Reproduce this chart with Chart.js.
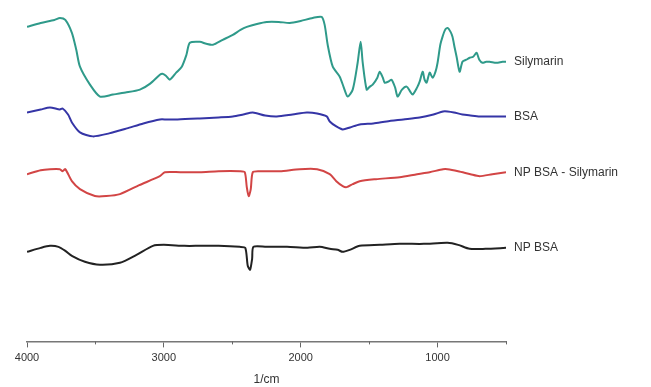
<!doctype html>
<html>

<head>
    <title>FTIR</title>
    <script src="https://cdn.jsdelivr.net/npm/chart.js"></script>
    <style>
        html, body { margin: 0; padding: 0; background: #fff; }
        .wrap { width: 651px; height: 387px; }
    </style>
</head>

<body>
    <div class="wrap">
        <canvas id="ftir"></canvas>
    </div>

    <script>
        // wavenumbers (1/cm) and transmittance in arbitrary offset units
        var silymarinX = [4000, 3900, 3800, 3759, 3720, 3672, 3640, 3613, 3540, 3467, 3372, 3280, 3175, 3100, 3029, 3010, 2985, 2956, 2910, 2869, 2835, 2810, 2737, 2690, 2642, 2570, 2496, 2440, 2394, 2320, 2248, 2160, 2080, 2000, 1912, 1847, 1825, 1803, 1766, 1715, 1685, 1657, 1620, 1584, 1562, 1547, 1518, 1495, 1474, 1440, 1423, 1400, 1387, 1360, 1336, 1310, 1292, 1260, 1226, 1200, 1182, 1150, 1131, 1109, 1095, 1080, 1058, 1036, 1015, 1000, 980, 964, 945, 927, 905, 891, 875, 861, 839, 818, 790, 766, 740, 715, 695, 672, 645, 620, 570, 525, 500];
        var silymarinY = [323, 327, 330, 332, 330, 317, 300, 283, 265, 253, 255, 257, 260, 266, 275, 276, 274, 270, 277, 283, 295, 307, 308, 306, 305, 310, 315, 320, 323, 326, 328, 328, 327, 329, 332, 333, 325, 305, 283, 273, 262, 253, 260, 287, 308, 287, 260, 263, 265, 272, 278, 272, 267, 268, 270, 262, 253, 260, 263, 258, 255, 262, 268, 278, 270, 267, 277, 272, 278, 287, 305, 313, 320, 322, 318, 313, 302, 293, 278, 288, 290, 292, 293, 297, 290, 287, 288, 288, 287, 288, 288];

        var bsaX = [4000, 3900, 3832, 3760, 3740, 3700, 3672, 3613, 3518, 3400, 3270, 3150, 3029, 2980, 2900, 2737, 2600, 2496, 2420, 2350, 2260, 2175, 2060, 1956, 1880, 1810, 1788, 1740, 1693, 1640, 1569, 1470, 1372, 1250, 1131, 1030, 960, 927, 880, 818, 760, 693, 600, 500];
        var bsaY = [237, 240, 242, 240, 241, 235, 227, 217, 213, 216, 221, 226, 230, 230, 230, 231, 232, 233, 235, 237, 234, 233, 235, 237, 236, 233, 228, 223, 220, 222, 225, 226, 228, 230, 232, 235, 238, 238, 237, 235, 234, 233, 233, 233];

        var npBsaSilX = [4000, 3900, 3832, 3760, 3740, 3720, 3672, 3613, 3504, 3420, 3321, 3180, 3029, 2993, 2880, 2737, 2600, 2445, 2409, 2394, 2380, 2365, 2350, 2300, 2153, 2007, 1880, 1788, 1740, 1693, 1664, 1620, 1569, 1450, 1277, 1150, 1058, 960, 927, 850, 760, 693, 600, 500];
        var npBsaSilY = [175, 179, 180, 180, 178, 180, 168, 160, 153, 153, 155, 164, 173, 177, 177, 177, 178, 178, 177, 162, 153, 160, 177, 178, 178, 180, 180, 175, 168, 163, 162, 165, 168, 170, 172, 175, 177, 180, 180, 178, 175, 173, 175, 177];

        var npBsaX = [4000, 3900, 3832, 3770, 3720, 3672, 3577, 3467, 3321, 3200, 3080, 3000, 2850, 2737, 2600, 2445, 2405, 2387, 2370, 2355, 2345, 2250, 2100, 1950, 1861, 1788, 1730, 1693, 1642, 1569, 1420, 1277, 1100, 927, 850, 766, 650, 500];
        var npBsaY = [97, 101, 103, 102, 98, 93, 87, 84, 86, 94, 103, 104, 103, 103, 103, 102, 101, 83, 79, 90, 102, 102, 102, 101, 102, 100, 99, 97, 99, 103, 104, 105, 105, 106, 104, 100, 100, 101];

        var seriesNames = ['Silymarin', 'BSA', 'NP BSA - Silymarin', 'NP BSA'];
        var seriesColors = ['#2f9a8a', '#3535a6', '#d24545', '#222222'];
        var majorTicks = [4000, 3000, 2000, 1000];
        var minorTicks = [3500, 2500, 1500, 500];

        function toPoints(xs, ys) {
            return xs.map(function (x, i) { return { x: x, y: ys[i] }; });
        }

        var allX = [silymarinX, bsaX, npBsaSilX, npBsaX];
        var allY = [silymarinY, bsaY, npBsaSilY, npBsaY];

        var endLabels = {
            id: 'endLabels',
            afterDatasetsDraw: function (chart) {
                var ctx = chart.ctx;
                ctx.save();
                ctx.font = '12px "Liberation Sans", Arial, sans-serif';
                ctx.fillStyle = '#333';
                ctx.textBaseline = 'middle';
                chart.data.datasets.forEach(function (ds, i) {
                    var meta = chart.getDatasetMeta(i);
                    var last = meta.data[meta.data.length - 1];
                    ctx.fillText(ds.label, last.x + 8, last.y);
                });
                ctx.restore();
            }
        };

        var minorTickMarks = {
            id: 'minorTickMarks',
            afterDraw: function (chart) {
                var sx = chart.scales.x;
                var ctx = chart.ctx;
                ctx.save();
                ctx.strokeStyle = '#666';
                ctx.lineWidth = 1;
                minorTicks.forEach(function (v) {
                    var px = Math.round(sx.getPixelForValue(v)) + 0.5;
                    ctx.beginPath();
                    ctx.moveTo(px, sx.top);
                    ctx.lineTo(px, sx.top + 3);
                    ctx.stroke();
                });
                ctx.restore();
            }
        };

        new Chart(document.getElementById('ftir').getContext('2d'), {
            type: 'line',
            data: {
                datasets: seriesNames.map(function (name, i) {
                    return {
                        label: name,
                        data: toPoints(allX[i], allY[i]),
                        borderColor: seriesColors[i],
                        borderWidth: 2,
                        pointRadius: 0,
                        tension: 0.25,
                        fill: false
                    };
                })
            },
            options: {
                responsive: true,
                maintainAspectRatio: false,
                animation: false,
                layout: { padding: { left: 27, right: 145, top: 5, bottom: 0 } },
                plugins: {
                    legend: { display: false },
                    tooltip: { enabled: false }
                },
                scales: {
                    x: {
                        type: 'linear',
                        reverse: true,
                        min: 500,
                        max: 4000,
                        afterBuildTicks: function (scale) {
                            scale.ticks = majorTicks.map(function (v) { return { value: v }; });
                        },
                        ticks: {
                            color: '#333',
                            font: { family: '"Liberation Sans", Arial, sans-serif', size: 11 },
                            maxRotation: 0,
                            padding: 4,
                            callback: function (v) { return String(v); }
                        },
                        grid: {
                            display: true,
                            drawOnChartArea: false,
                            tickLength: 6,
                            tickColor: '#666'
                        },
                        border: { color: '#777', width: 1.5 },
                        title: {
                            display: true,
                            text: '1/cm',
                            color: '#333',
                            font: { family: '"Liberation Sans", Arial, sans-serif', size: 12 },
                            padding: { top: 4, bottom: 0 }
                        }
                    },
                    y: {
                        display: false,
                        min: 7,
                        max: 345
                    }
                }
            },
            plugins: [endLabels, minorTickMarks]
        });
    </script>
</body>

</html>
